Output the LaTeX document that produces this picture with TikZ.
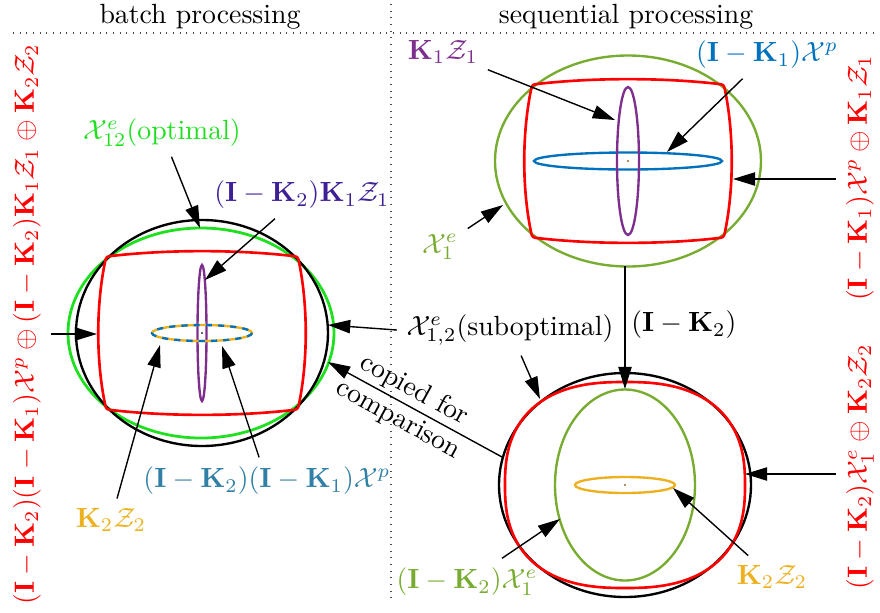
\documentclass[tikz,border=0pt]{standalone}
\usepackage{amsmath,amssymb}
\usetikzlibrary{arrows.meta}

\definecolor{mblue}{HTML}{0072BD}
\definecolor{morange}{HTML}{EDB120}
\definecolor{mpurple}{HTML}{7E2F8E}
\definecolor{mgreen}{HTML}{77AC30}
\definecolor{lgreen}{HTML}{1EE01E}
\definecolor{mteal}{HTML}{2F7FA6}
\definecolor{mindigo}{HTML}{3F1F96}

\begin{document}
\begin{tikzpicture}[x=0.36pt, y=-0.36pt,
    arr/.style={-{Triangle[length=8pt,width=4.8pt]}, line width=0.5pt},
    set/.style={line width=0.85pt},
    hull/.style={red, line width=0.95pt},
    sep/.style={dotted, line width=0.4pt, black!70}]
    \useasboundingbox (0,0) rectangle (880,612);

    % headers
    \node (hdrL) at (200,17) {batch processing};
    \node (hdrR) at (626,17) {sequential processing};
    \draw[sep] (13,33) -- (880,33);
    \draw[sep] (391,4) -- (391,598);

    % batch processing
    \draw[set, lgreen, line width=1pt] (201,333) ellipse [x radius=133, y radius=105];
    \draw[set, black] (202,333) ellipse [x radius=126, y radius=113];
    \draw[hull, shift={(202,333)}]
      (-91,-77) .. controls (-35,-83.5) and (35,-83.5) .. (91,-77)
      .. controls (95.3,-76.5) and (96,-75.9) .. (97,-71)
      .. controls (106,-27) and (106,27) .. (97,71)
      .. controls (96,75.9) and (95.3,76.5) .. (91,77)
      .. controls (35,83.5) and (-35,83.5) .. (-91,77)
      .. controls (-95.3,76.5) and (-96,75.9) .. (-97,71)
      .. controls (-106,27) and (-106,-27) .. (-97,-71)
      .. controls (-96,-75.9) and (-95.3,-76.5) .. (-91,-77) -- cycle;
    \draw[set, mpurple] (202,333) ellipse [x radius=4.5, y radius=68];
    \draw[set, morange] (202,333) ellipse [x radius=50, y radius=8];
    \draw[set, mblue, dash pattern=on 2.2pt off 2.2pt] (202,333) ellipse [x radius=50, y radius=8];
    \fill[black!80] (202,333) circle [radius=1.2];

    % sequential processing, first step
    \draw[set, mgreen] (628,161) ellipse [x radius=133, y radius=105.5];
    \draw[hull, shift={(628,161)}]
      (-91,-77) .. controls (-35,-83.5) and (35,-83.5) .. (91,-77)
      .. controls (95.3,-76.5) and (96,-75.9) .. (97,-71)
      .. controls (106,-27) and (106,27) .. (97,71)
      .. controls (96,75.9) and (95.3,76.5) .. (91,77)
      .. controls (35,83.5) and (-35,83.5) .. (-91,77)
      .. controls (-95.3,76.5) and (-96,75.9) .. (-97,71)
      .. controls (-106,27) and (-106,-27) .. (-97,-71)
      .. controls (-96,-75.9) and (-95.3,-76.5) .. (-91,-77) -- cycle;
    \draw[set, mblue] (628,161) ellipse [x radius=94, y radius=8.5];
    \draw[set, mpurple] (628,161) ellipse [x radius=11, y radius=74];
    \fill[brown!80!black] (628,161) circle [radius=1.2];

    % sequential processing, second step
    \draw[set, black] (625,485) ellipse [x radius=126, y radius=112];
    \draw[hull, shift={(625,485)}] plot[smooth cycle, domain=1:359, samples=180]
      ({120*cos(\x)*pow(abs(cos(\x)),-0.2)}, {103*sin(\x)*pow(abs(sin(\x)),-0.2)});
    \draw[set, mgreen] (625,485) ellipse [x radius=70, y radius=95.5];
    \draw[set, morange] (625,485) ellipse [x radius=50, y radius=8];
    \fill[brown!80!black] (625,485) circle [radius=1.2];

    % arrow targets
    \coordinate (tOpt) at (200,228);
    \coordinate (tKZb) at (205,280);
    \coordinate (tKZc) at (160,345);
    \coordinate (tIKK) at (222,346);
    \coordinate (tL) at (97,334);
    \coordinate (tSub) at (328,325);
    \coordinate (tSubB) at (540,399);
    \coordinate (tKZa) at (615,120);
    \coordinate (tIKa) at (667,152);
    \coordinate (tXa) at (503,205);
    \coordinate (tRa) at (733,179);
    \coordinate (tRb) at (745,474);
    \coordinate (tIKX) at (560,519);
    \coordinate (tKZd) at (673,488);
    \coordinate (vTop) at (625,266);
    \coordinate (vBot) at (625,389);
    \coordinate (cpS) at (502,457);
    \coordinate (cpT) at (328,362);

    % labels
    \node[lgreen] (lblOpt) at (162,133) {$\mathcal{X}^e_{12}$(optimal)};
    \node[mindigo] (lblKZb) at (302,195) {$(\mathbf{I}-\mathbf{K}_2)\mathbf{K}_1\mathcal{Z}_1$};
    \node[morange] (lblKZc) at (111,520) {$\mathbf{K}_2\mathcal{Z}_2$};
    \node[mteal] (lblIKK) at (267,481) {$(\mathbf{I}-\mathbf{K}_2)(\mathbf{I}-\mathbf{K}_1)\mathcal{X}^p$};
    \node (lblSub) at (510,330) {$\mathcal{X}^e_{1,2}$(suboptimal)};
    \node[mpurple] (lblKZa) at (443,52) {$\mathbf{K}_1\mathcal{Z}_1$};
    \node[mblue] (lblIKa) at (767,55) {$(\mathbf{I}-\mathbf{K}_1)\mathcal{X}^p$};
    \node[mgreen] (lblXa) at (440,247) {$\mathcal{X}^e_1$};
    \node[mgreen] (lblIKX) at (467,582) {$(\mathbf{I}-\mathbf{K}_2)\mathcal{X}^e_1$};
    \node[morange] (lblKZd) at (772,577) {$\mathbf{K}_2\mathcal{Z}_2$};
    \node[red, rotate=90] (lblSumL) at (27,324)
      {$(\mathbf{I}-\mathbf{K}_2)(\mathbf{I}-\mathbf{K}_1)\mathcal{X}^p\oplus(\mathbf{I}-\mathbf{K}_2)\mathbf{K}_1\mathcal{Z}_1\oplus\mathbf{K}_2\mathcal{Z}_2$};
    \node[red, rotate=90] (lblSumA) at (860,178)
      {$(\mathbf{I}-\mathbf{K}_1)\mathcal{X}^p\oplus\mathbf{K}_1\mathcal{Z}_1$};
    \node[red, rotate=90] (lblSumB) at (860,467)
      {$(\mathbf{I}-\mathbf{K}_2)\mathcal{X}^e_1\oplus\mathbf{K}_2\mathcal{Z}_2$};

    % arrows
    \draw[arr] (lblOpt) -- (tOpt);
    \draw[arr] (lblKZb) -- (tKZb);
    \draw[arr] (lblKZc) -- (tKZc);
    \draw[arr] (lblIKK) -- (tIKK);
    \draw[arr] (lblSumL.south |- tL) -- (tL);
    \draw[arr] (lblSub.west) -- (tSub);
    \draw[arr] (lblSub) -- (tSubB);
    \draw[arr] (cpS) -- (cpT) node[pos=0.55, sloped, align=center] (lblCopy) {copied for\\comparison};
    \draw[arr] (lblKZa) -- (tKZa);
    \draw[arr] (lblIKa) -- (tIKa);
    \draw[arr] (lblXa) -- (tXa);
    \draw[arr] (lblSumA.north |- tRa) -- (tRa);
    \draw[arr] (lblSumB.north |- tRb) -- (tRb);
    \draw[arr] (vTop) -- (vBot) node[pos=0.48, right, inner sep=2pt] (lblK2) {$(\mathbf{I}-\mathbf{K}_2)$};
    \draw[arr] (lblIKX) -- (tIKX);
    \draw[arr] (lblKZd) -- (tKZd);
\end{tikzpicture}
\end{document}
